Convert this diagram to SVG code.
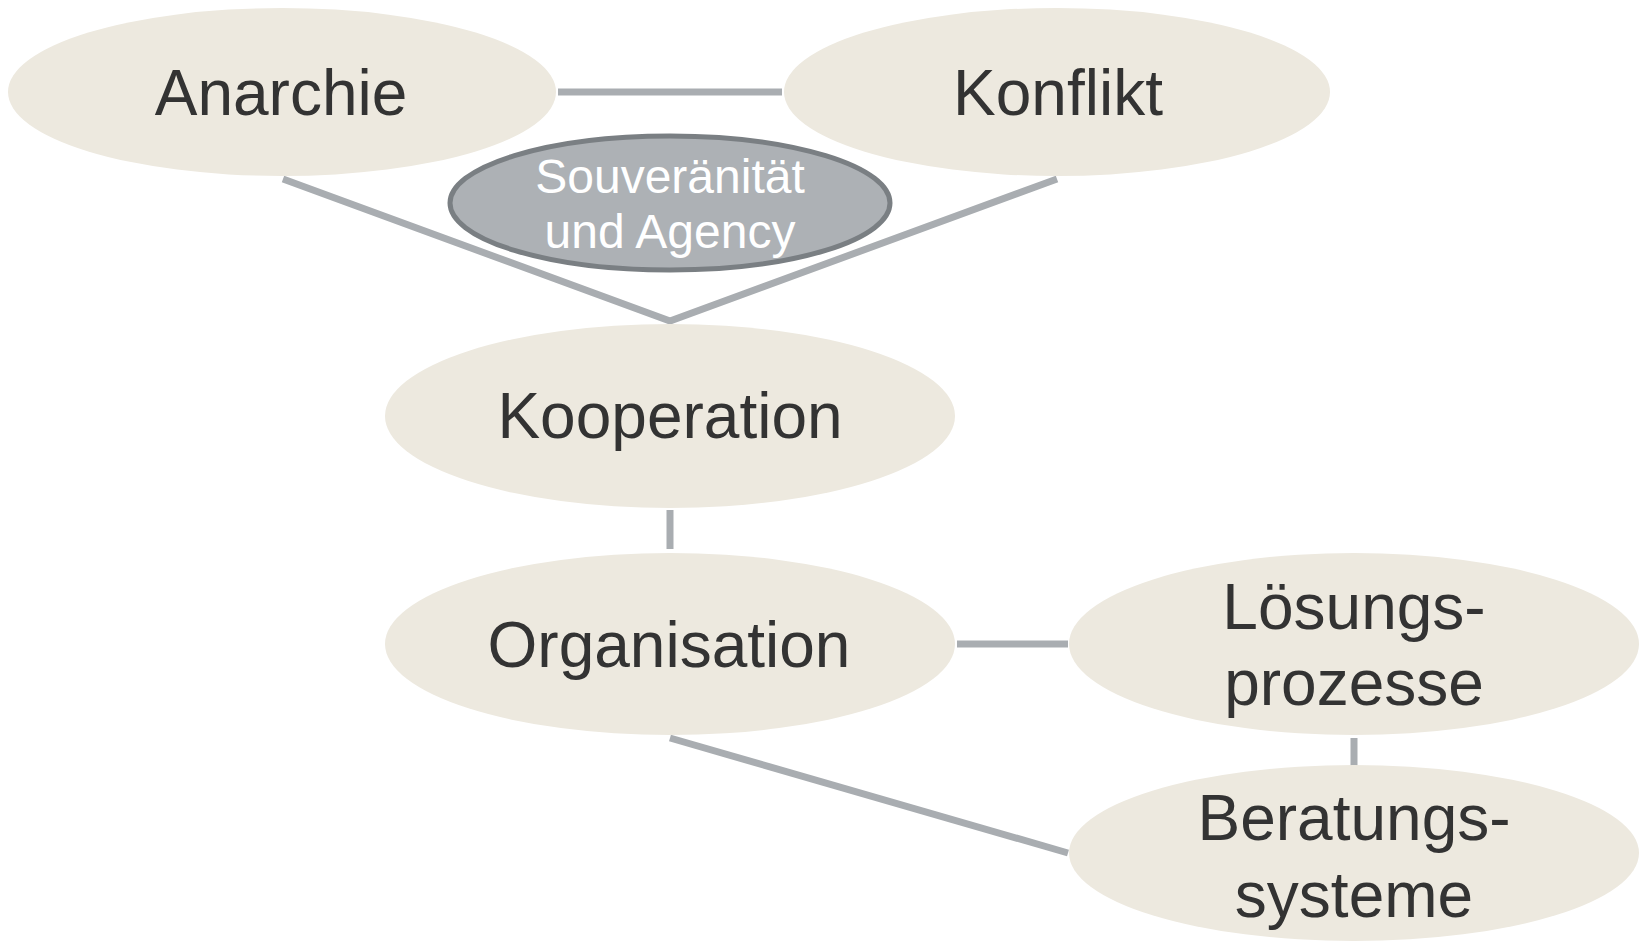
<svg xmlns="http://www.w3.org/2000/svg" width="1642" height="943" viewBox="0 0 1642 943">
<style>
.n{fill:#ede9df;}
.s{fill:#adb1b5;stroke:#7a7f83;stroke-width:5;}
.t{font-family:"Liberation Sans",Arial,sans-serif;font-size:64px;fill:#333333;text-anchor:middle;}
.w{font-family:"Liberation Sans",Arial,sans-serif;font-size:48px;fill:#ffffff;text-anchor:middle;}
.c{stroke:#a9adb1;stroke-width:7;fill:none;}
</style>
<rect width="1642" height="943" fill="#ffffff"/>
<g id="connectors">
<line class="c" x1="558" y1="92" x2="782" y2="92"/>
<polyline class="c" points="283,179 670,321 1057,179"/>
<line class="c" x1="670" y1="510" x2="670" y2="549"/>
<line class="c" x1="957" y1="644" x2="1068" y2="644"/>
<line class="c" x1="1354" y1="738" x2="1354" y2="768"/>
<line class="c" x1="670" y1="738" x2="1068" y2="853"/>
</g>
<g id="anarchie">
<ellipse class="n" cx="282" cy="92" rx="274" ry="84"/>
<text class="t" x="281" y="115">Anarchie</text>
</g>
<g id="konflikt">
<ellipse class="n" cx="1057" cy="92" rx="273" ry="84"/>
<text class="t" x="1058" y="115">Konflikt</text>
</g>
<g id="souveraenitaet">
<ellipse class="s" cx="670" cy="203" rx="220" ry="67"/>
<text class="w" x="670" y="193">Souveränität</text>
<text class="w" x="670" y="248">und Agency</text>
</g>
<g id="kooperation">
<ellipse class="n" cx="670" cy="416" rx="285" ry="92"/>
<text class="t" x="670" y="438">Kooperation</text>
</g>
<g id="organisation">
<ellipse class="n" cx="670" cy="644" rx="285" ry="91"/>
<text class="t" x="669" y="667">Organisation</text>
</g>
<g id="loesungsprozesse">
<ellipse class="n" cx="1354" cy="644" rx="285" ry="91"/>
<text class="t" x="1354" y="629">Lösungs-</text>
<text class="t" x="1354" y="705">prozesse</text>
</g>
<g id="beratungssysteme">
<ellipse class="n" cx="1354" cy="853" rx="285" ry="88"/>
<text class="t" x="1354" y="840">Beratungs-</text>
<text class="t" x="1354" y="917">systeme</text>
</g>
</svg>
